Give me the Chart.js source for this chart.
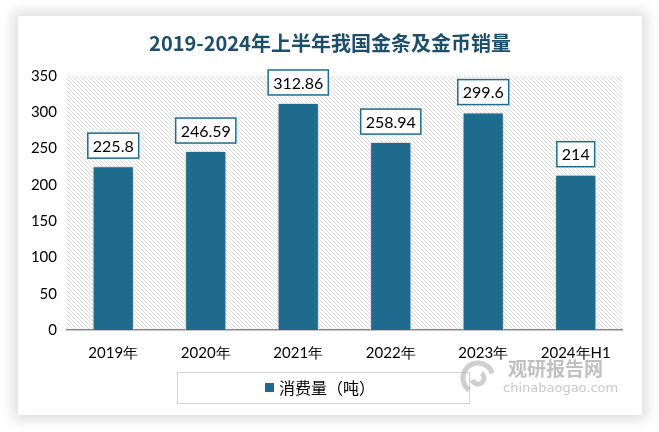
<!DOCTYPE html>
<html>
<head>
<meta charset="utf-8">
<script src="https://cdn.jsdelivr.net/npm/chart.js@4.4.1/dist/chart.umd.min.js"></script>
<style>
  html, body { margin: 0; padding: 0; background: #ffffff; }
  #wrap { position: relative; width: 659px; height: 432px; overflow: hidden; }
  #card {
    position: absolute; left: 18px; top: 16px; width: 624px; height: 399px;
    background: #fff; box-shadow: 0 0 12px 5px rgba(0,0,0,0.13);
  }
  #c { position: absolute; left: 0; top: 0; }
</style>
</head>
<body>
<div id="wrap">
  <div id="card"></div>
  <canvas id="c" width="659" height="432"></canvas>
</div>
<script>
// 数据
const categories = ["2019年", "2020年", "2021年", "2022年", "2023年", "2024年H1"];
const consumption = [225.8, 246.59, 312.86, 258.94, 299.6, 214];
const yTicks = [0, 50, 100, 150, 200, 250, 300, 350];
const seriesName = "消费量（吨）";
const titleText = "2019-2024年上半年我国金条及金币销量";

const barColor = "#1e6b8e";
const tickFont = { family: "Lato, 'Noto Sans', sans-serif", size: 15 };

// 斜线底纹
function makeHatch() {
  const p = document.createElement("canvas");
  p.width = 4;
  p.height = 4;
  const pc = p.getContext("2d");
  pc.fillStyle = "#ffffff";
  pc.fillRect(0, 0, 4, 4);
  pc.fillStyle = "#dcdcdc";
  for (let i = 0; i < 4; i++) pc.fillRect(i, i, 1, 1);
  return p;
}

const bgPlugin = {
  id: "bg",
  beforeDraw(chart) {
    const { ctx, chartArea: a } = chart;
    ctx.save();
    ctx.fillStyle = ctx.createPattern(makeHatch(), "repeat");
    ctx.fillRect(a.left, a.top, a.right - a.left, a.bottom - a.top);
    ctx.restore();

    // 标题
    ctx.save();
    ctx.font = "bold 20px 'Noto Sans CJK SC', sans-serif";
    ctx.fillStyle = "#1d4f6b";
    ctx.textAlign = "center";
    ctx.textBaseline = "middle";
    ctx.fillText(titleText, 330, 43);
    ctx.restore();
  },
};

const shadowPlugin = {
  id: "barShadow",
  beforeDatasetsDraw(chart) {
    const ctx = chart.ctx;
    ctx.save();
    ctx.shadowColor = "rgba(0,0,0,0.35)";
    ctx.shadowBlur = 7;
    ctx.shadowOffsetX = 0;
    ctx.shadowOffsetY = 1;
  },
  afterDatasetsDraw(chart) {
    chart.ctx.restore();
  },
};

// 数据标签 + 图例 + 水印
const labelPlugin = {
  id: "labels",
  afterDraw(chart) {
    const ctx = chart.ctx;
    const meta = chart.getDatasetMeta(0);
    ctx.save();
    ctx.font = "16px Lato, 'Noto Sans', sans-serif";
    ctx.textAlign = "center";
    ctx.textBaseline = "middle";
    meta.data.forEach((bar, idx) => {
      const txt = String(consumption[idx]);
      const w = ctx.measureText(txt).width + 10;
      const h = 25;
      const cx = bar.x;
      const bottom = bar.y - 8;
      ctx.fillStyle = "#ffffff";
      ctx.fillRect(cx - w / 2, bottom - h, w, h);
      ctx.strokeStyle = barColor;
      ctx.lineWidth = 1.5;
      ctx.strokeRect(cx - w / 2, bottom - h, w, h);
      ctx.fillStyle = "#000000";
      ctx.fillText(txt, cx, bottom - h / 2 + 1);
    });
    ctx.restore();

    // 图例
    ctx.save();
    ctx.strokeStyle = "#d4d4d4";
    ctx.lineWidth = 1;
    ctx.strokeRect(177.5, 372.5, 292, 31);
    ctx.fillStyle = barColor;
    ctx.fillRect(265, 383, 9, 9);
    ctx.font = "16px 'Noto Sans CJK SC', sans-serif";
    ctx.fillStyle = "#000";
    ctx.textBaseline = "middle";
    ctx.fillText(chart.data.datasets[0].label, 279, 388);
    ctx.restore();

    // 水印
    ctx.save();
    ctx.globalAlpha = 0.55;
    ctx.strokeStyle = "#a8a8a8";
    ctx.lineWidth = 5;
    ctx.beginPath();
    ctx.arc(478, 378, 15, Math.PI * 0.7, Math.PI * 1.9);
    ctx.stroke();
    ctx.beginPath();
    ctx.arc(478, 378, 6, Math.PI * 1.7, Math.PI * 0.9);
    ctx.stroke();
    ctx.fillStyle = "#8c8c8c";
    ctx.font = "bold 19px 'Noto Sans CJK SC', sans-serif";
    ctx.textBaseline = "middle";
    ctx.fillText("观研报告网", 508, 369);
    ctx.fillStyle = "#9a9a9a";
    ctx.font = "13px 'DejaVu Sans', sans-serif";
    ctx.fillText("chinabaogao.com", 503, 389);
    ctx.restore();
  },
};

new Chart(document.getElementById("c"), {
  type: "bar",
  data: {
    labels: categories,
    datasets: [
      {
        label: seriesName,
        data: consumption,
        backgroundColor: barColor,
        borderColor: "rgba(255,255,255,0.6)",
        borderWidth: 1,
        barPercentage: 0.445,
        categoryPercentage: 1,
      },
    ],
  },
  options: {
    responsive: false,
    animation: false,
    layout: { padding: { top: 76, right: 37, bottom: 72, left: 0 } },
    plugins: {
      legend: { display: false },
      title: { display: false },
      tooltip: { enabled: false },
    },
    scales: {
      x: {
        grid: { display: false },
        border: { color: "#8a8a8a", width: 1.5 },
        ticks: { color: "#000", font: tickFont, padding: 6, maxRotation: 0 },
        afterFit(s) { s.height = 30; },
      },
      y: {
        min: 0,
        max: 350,
        afterBuildTicks(s) { s.ticks = yTicks.map((v) => ({ value: v })); },
        grid: { display: false, drawTicks: false },
        border: { display: false },
        ticks: { color: "#000", font: tickFont, padding: 10 },
        afterFit(s) { s.width = 67; },
      },
    },
  },
  plugins: [bgPlugin, shadowPlugin, labelPlugin],
});
</script>
</body>
</html>
